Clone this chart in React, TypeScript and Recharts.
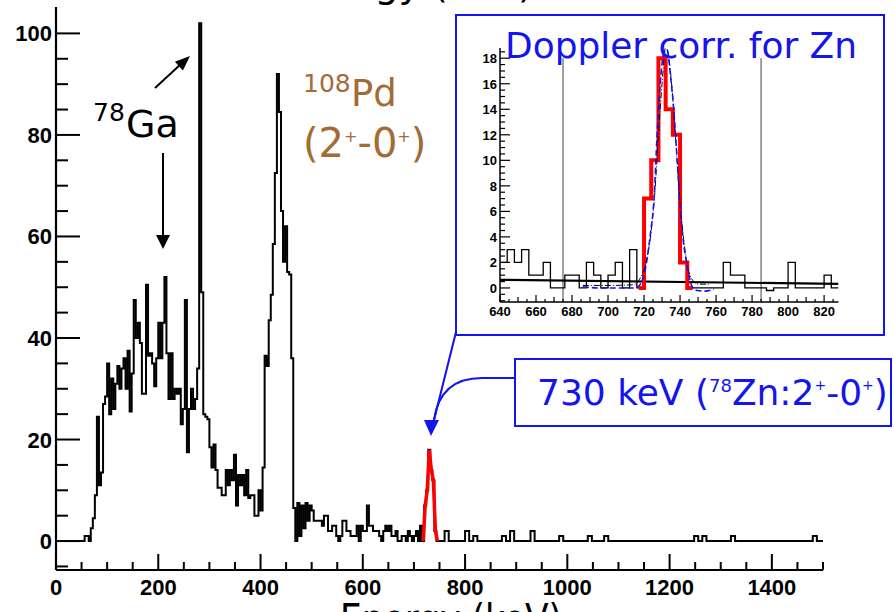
import React from 'react';
import { LineChart, Line, XAxis, YAxis, ReferenceLine } from 'recharts';

// main spectrum, 4 keV bins from 0 keV
const lowCounts = [
  0, 0, 0, 0, 0, 0, 0, 0, 0, 0,
  0, 0, 0, 0, 1, 1, 0, 2.5, 4.5, 9,
  24.5, 11, 13.5, 27, 28.5, 35, 25, 32, 26, 31,
  34.5, 30, 34, 36, 30, 37.5, 25.5, 33, 47.5, 40,
  43, 39, 29, 29, 50.5, 36.5, 37, 35, 30.5, 36,
  43, 36, 43, 52, 37, 28, 37, 28, 30, 29,
  30, 23, 26, 47.5, 17.5, 26, 30, 26, 28, 34,
  102, 49, 25, 24.5, 24, 18.5, 14.5, 19, 14, 10.5,
  10.5, 9, 9, 14, 11, 14, 12, 17, 7, 13,
  11, 13, 9, 14, 8.5, 9, 9, 5, 5, 10,
  6, 14.5, 36.5, 34.5, 43.5, 48.5, 58.5, 72.5, 92, 84.5,
  65, 55, 62, 53, 52.5, 36, 6.5, 0, 7.5, 1,
  7, 2.5, 7.5, 4, 7,
];

// 500 - 636 keV, 4 keV bins
const midCounts = [
  6, 4, 4, 4, 4, 3, 5, 5, 2, 2,
  3, 3, 1, 0, 1, 4, 4, 2, 2, 1,
  1, 1, 3, 0, 3, 2, 2, 7, 3, 3,
  2, 2, 2, 1, 0,
];

// 640 - 716 keV (shared with inset)
const insetLeft = [2, 3, 2, 3, 1, 1, 2, 0, 0, 1, 1, 0, 2, 1, 0, 1, 2, 0, 3, 0];
// 720 - 740 keV, the 78Zn line
const peakCounts = [7, 10, 18, 14, 12, 2];
// 744 - 824 keV (inset only)
const insetRight = [0, 0, 0, 0, 0, 2, 1, 1, 0, 0, 0, -0.2, 0, 0, 2, 0, 0, 0, 0, 1, 0];

// 744 - 1488 keV, 8 keV bins
const tailCounts = [
  0, 0, 2, 0, 0, 0, 0, 2, 0, 1,
  0, 0, 0, 0, 0, 0, 1, 0, 2, 0,
  0, 0, 0, 2, 0, 0, 0, 0, 0, 0,
  1, 0, 0, 0, 0, 0, 0, 1, 0, 0,
  0, 1, 0, 0, 0, 0, 0, 0, 0, 0,
  0, 0, 0, 0, 0, 0, 0, 0, 0, 0,
  0, 0, 0, 1, 0, 1, 0, 0, 0, 0,
  0, 0, 1, 0, 0, 0, 0, 0, 0, 0,
  0, 0, 0, 0, 0, 0, 0, 0, 0, 0,
  0, 0, 1, 0,
];

// inset fits
const bgEnergy = [640, 828];
const bgValue = [0.64, 0.32];
const blueEnergy = [686, 695, 705, 715, 718, 721, 723.6, 725.5, 727.3, 729, 731, 732.8, 734.7, 736.5, 738.4, 740, 741.7, 744, 746.7, 749.4, 754, 758.7];
const blueValue = [0.1, 0, 0, 0, 0.3, 1.7, 4.3, 6.9, 12.1, 16, 18.4, 18.65, 16.6, 14, 10, 6.4, 3.8, 1.7, 0.1, -0.2, -0.25, -0.1];
const dashDotEnergy = [686, 700, 714, 718, 721, 724, 726, 728, 730, 732, 734, 736, 738, 740, 742, 744, 747, 750, 756];
const dashDotValue = [0.2, 0.2, 0.25, 0.8, 2, 4.5, 7.5, 12, 16, 18.9, 17.8, 14.8, 10.8, 6.8, 3.8, 1.8, 0.6, 0.3, 0.3];
const gateLines = [675, 785];

const mainXTicks = Array.from({ length: 31 }, (_, i) => i * 50);
const mainYTicks = Array.from({ length: 22 }, (_, i) => -5 + i * 5);
const insetXTicks = Array.from({ length: 38 }, (_, i) => 640 + i * 5);
const insetYTicks = Array.from({ length: 40 }, (_, i) => -1 + i * 0.5);

const toPts = (counts: number[], start: number, width: number) =>
  counts.map((c, i) => ({ e: start + i * width, c }));

const mainSeries = [
  ...toPts(lowCounts, 0, 4),
  ...toPts(midCounts, 500, 4),
  ...toPts(insetLeft, 640, 4),
  ...toPts(peakCounts, 720, 4),
  ...toPts(tailCounts, 744, 8),
  { e: 1500, c: 0 },
];
const mainRed = [{ e: 718, c: 0 }, ...toPts(peakCounts, 722, 4), { e: 746, c: 0 }];

const insetBlack = [
  ...toPts(insetLeft, 640, 4),
  ...toPts(peakCounts, 720, 4),
  ...toPts(insetRight, 744, 4),
  { e: 828, c: 0 },
];
const insetRed = [{ e: 717, c: 0 }, ...toPts(peakCounts, 720, 4), { e: 744, c: 0 }, { e: 747, c: 0 }];
const bgLine = bgEnergy.map((e, i) => ({ e, c: bgValue[i] }));
const blueFit = blueEnergy.map((e, i) => ({ e, c: blueValue[i] }));
const dashDotFit = dashDotEnergy.map((e, i) => ({ e, c: dashDotValue[i] }));

const BLUE = '#1414ee';
const BROWN = '#a36b36';
const NUM_FONT = 'Liberation Sans, Arial, sans-serif';
const NARROW_FONT = 'Liberation Sans Narrow, Liberation Sans, sans-serif';
const ANN_FONT = 'DejaVu Sans, sans-serif';

const MainXTick = (props: any) => {
  const { x, y, payload } = props;
  const v = payload.value;
  const major = v % 200 === 0;
  return (
    <g>
      <line x1={x} x2={x} y1={y} y2={y - (major ? 16 : 8)} stroke="#000" strokeWidth={2} />
      {major && (
        <text x={x} y={y + 25} textAnchor="middle" fontFamily={NUM_FONT} fontWeight="bold" fontSize={22}>
          {v}
        </text>
      )}
    </g>
  );
};

const MainYTick = (props: any) => {
  const { x, y, payload } = props;
  const v = payload.value;
  const major = v % 20 === 0;
  return (
    <g>
      <line x1={x} x2={x + (major ? 24 : 12)} y1={y} y2={y} stroke="#000" strokeWidth={2} />
      {major && (
        <text x={x - 4} y={y + 8} textAnchor="end" fontFamily={NUM_FONT} fontWeight="bold" fontSize={22}>
          {v}
        </text>
      )}
    </g>
  );
};

const InsetXTick = (props: any) => {
  const { x, y, payload } = props;
  const v = payload.value;
  const len = v % 20 === 0 ? 7 : v % 10 === 0 ? 5 : 3;
  return (
    <g>
      <line x1={x} x2={x} y1={y} y2={y - len} stroke="#000" strokeWidth={1.2} />
      {v % 20 === 0 && (
        <text x={x} y={y + 14} textAnchor="middle" fontFamily={NARROW_FONT} fontWeight="bold" fontSize={13}>
          {v}
        </text>
      )}
    </g>
  );
};

const InsetYTick = (props: any) => {
  const { x, y, payload } = props;
  const v = payload.value;
  const major = v % 2 === 0;
  return (
    <g>
      <line x1={x} x2={x + (major ? 10 : 5)} y1={y} y2={y} stroke="#000" strokeWidth={1.2} />
      {major && v >= 0 && (
        <text x={x - 3} y={y + 5} textAnchor="end" fontFamily={NARROW_FONT} fontWeight="bold" fontSize={13}>
          {v}
        </text>
      )}
    </g>
  );
};

export default function App() {
  return (
    <div style={{ position: 'absolute', left: 0, top: 0, width: 894, height: 612, background: '#fff', overflow: 'hidden' }}>
      <div style={{ position: 'absolute', left: 0, top: 0 }}>
        <LineChart width={894} height={612} margin={{ top: 7, right: 71, bottom: 0, left: 0 }}>
          <XAxis
            dataKey="e"
            type="number"
            domain={[0, 1500]}
            allowDataOverflow
            ticks={mainXTicks}
            interval={0}
            tickSize={0}
            tickMargin={0}
            height={42}
            axisLine={{ stroke: '#000', strokeWidth: 2.2 }}
            tick={<MainXTick />}
          />
          <YAxis
            type="number"
            domain={[-5.7, 105.2]}
            allowDataOverflow
            ticks={mainYTicks}
            interval={0}
            tickSize={0}
            tickMargin={0}
            width={56}
            axisLine={{ stroke: '#000', strokeWidth: 2.2 }}
            tick={<MainYTick />}
          />
          <Line data={mainSeries} dataKey="c" type="stepAfter" stroke="#000" strokeWidth={2} dot={false} activeDot={false} isAnimationActive={false} />
          <Line data={mainRed} dataKey="c" type="linear" stroke="#ff0000" strokeWidth={3.5} dot={false} activeDot={false} isAnimationActive={false} />
        </LineChart>
      </div>

      <div
        style={{
          position: 'absolute',
          left: 455,
          top: 14,
          width: 426,
          height: 318,
          border: `2px solid ${BLUE}`,
          background: '#fff',
        }}
      />
      <div style={{ position: 'absolute', left: 460, top: 20 }}>
        <LineChart width={400} height={312} margin={{ top: 28, right: 21.5, bottom: 0, left: 0 }}>
          <XAxis
            dataKey="e"
            type="number"
            domain={[640, 828]}
            allowDataOverflow
            ticks={insetXTicks}
            interval={0}
            tickSize={0}
            tickMargin={0}
            height={30}
            axisLine={{ stroke: '#000', strokeWidth: 1.5 }}
            tick={<InsetXTick />}
          />
          <YAxis
            type="number"
            domain={[-1.1, 18.8]}
            allowDataOverflow
            ticks={insetYTicks}
            interval={0}
            tickSize={0}
            tickMargin={0}
            width={40}
            axisLine={{ stroke: '#000', strokeWidth: 1.5 }}
            tick={<InsetYTick />}
          />
          {gateLines.map((g) => (
            <ReferenceLine key={g} segment={[{ x: g, y: 18 }, { x: g, y: -1.1 }]} stroke="#444" strokeWidth={1} />
          ))}
          <Line data={insetBlack} dataKey="c" type="stepAfter" stroke="#000" strokeWidth={1.3} dot={false} activeDot={false} isAnimationActive={false} />
          <Line data={bgLine} dataKey="c" type="linear" stroke="#000" strokeWidth={2.2} dot={false} activeDot={false} isAnimationActive={false} />
          <Line data={insetRed} dataKey="c" type="stepAfter" stroke="#ff0000" strokeWidth={4} dot={false} activeDot={false} isAnimationActive={false} />
          <Line data={dashDotFit} dataKey="c" type="monotone" stroke="#000" strokeWidth={1} strokeDasharray="6 2 1 2" dot={false} activeDot={false} isAnimationActive={false} />
          <Line data={blueFit} dataKey="c" type="monotone" stroke={BLUE} strokeWidth={1.6} strokeDasharray="6 3" dot={false} activeDot={false} isAnimationActive={false} />
        </LineChart>
      </div>

      <svg width={894} height={612} style={{ position: 'absolute', left: 0, top: 0, pointerEvents: 'none' }}>
        {/* axis titles, cut by the picture's edges */}
        <text x={288} y={-3} fontFamily={ANN_FONT} fontSize={38} fill="#000">Energy (keV)</text>
        <text x={340} y={633} fontFamily={ANN_FONT} fontSize={40} fill="#000" textLength={222} lengthAdjust="spacingAndGlyphs">
          Energy (keV)
        </text>

        {/* 78Ga */}
        <text x={93} y={121} fontFamily={ANN_FONT} fontSize={25} fill="#000">78</text>
        <text x={126} y={137} fontFamily={ANN_FONT} fontSize={38} fill="#000">Ga</text>
        <line x1={155} y1={88} x2={181} y2={64} stroke="#000" strokeWidth={2} />
        <polygon points="190,56 182.9,70.5 174.9,61.7" fill="#000" />
        <line x1={163} y1={153} x2={163} y2={236} stroke="#000" strokeWidth={2} />
        <polygon points="156,235 170,235 163,249" fill="#000" />

        {/* 108Pd */}
        <text x={303} y={92} fontFamily={ANN_FONT} fontSize={25} fill={BROWN}>108</text>
        <text x={351} y={106} fontFamily={ANN_FONT} fontSize={37} fill={BROWN}>Pd</text>
        <text x={303} y={157} fontFamily={ANN_FONT} fontSize={40} fill={BROWN}>
          (2<tspan dy={-15} fontSize={16}>+</tspan>
          <tspan dy={15}>-0</tspan>
          <tspan dy={-15} fontSize={16}>+</tspan>
          <tspan dy={15}>)</tspan>
        </text>

        {/* inset title */}
        <text x={505} y={58} fontFamily={ANN_FONT} fontSize={36} fill={BLUE} textLength={352} lengthAdjust="spacingAndGlyphs">
          Doppler corr. for Zn
        </text>

        {/* 730 keV label */}
        <rect x={515} y={359} width={376} height={67} fill="#fff" stroke={BLUE} strokeWidth={2} />
        <text x={537} y={405} fontFamily={ANN_FONT} fontSize={36} fill={BLUE}>
          730 keV (<tspan dy={-13} fontSize={18}>78</tspan>
          <tspan dy={13}>Zn:2</tspan>
          <tspan dy={-15} fontSize={14}>+</tspan>
          <tspan dy={15}>-0</tspan>
          <tspan dy={-15} fontSize={14}>+</tspan>
          <tspan dy={15}>)</tspan>
        </text>
        <line x1={456} y1={332} x2={433} y2={424} stroke={BLUE} strokeWidth={2} />
        <path d="M515,378 L482,378 Q440,378 434,420" fill="none" stroke={BLUE} strokeWidth={2} />
        <polygon points="424,420 439,420 431,436" fill={BLUE} />
      </svg>
    </div>
  );
}
